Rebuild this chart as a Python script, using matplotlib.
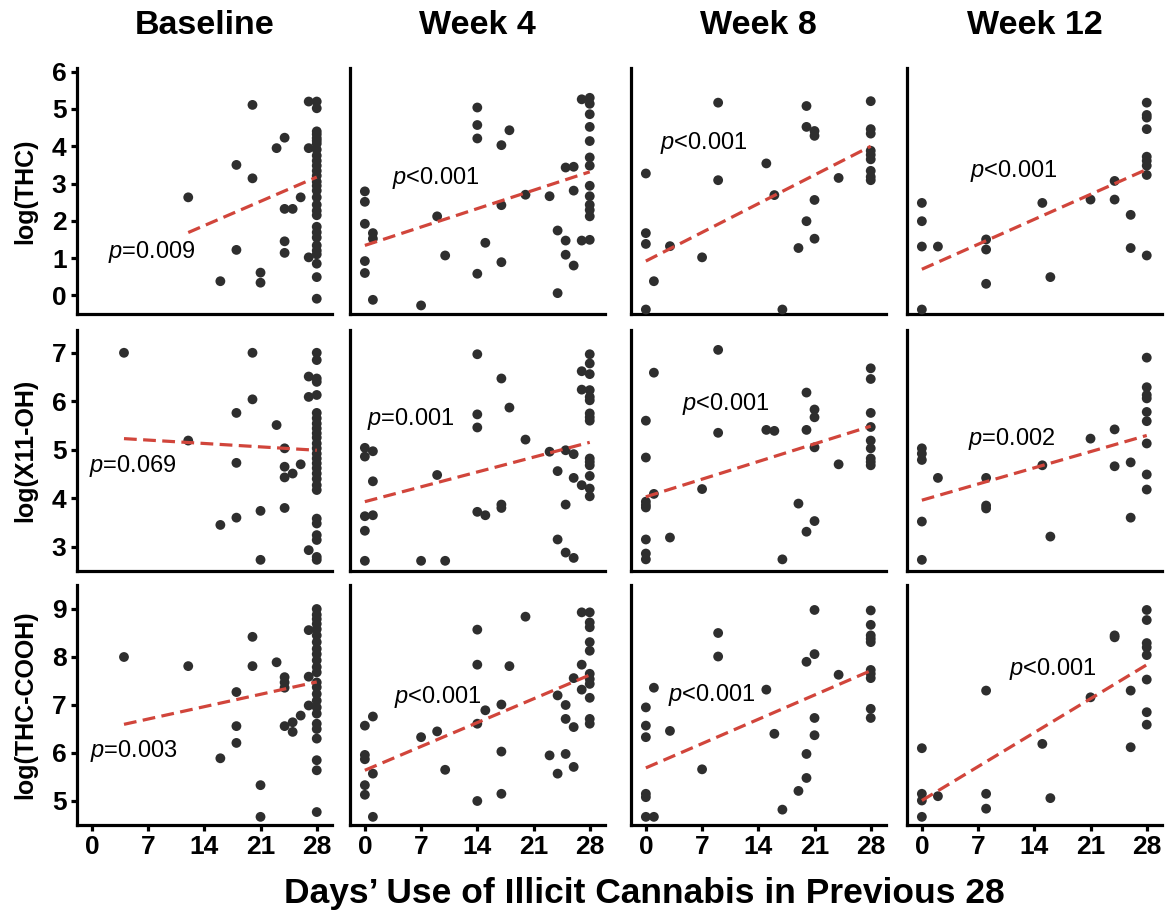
import matplotlib.pyplot as plt
import numpy as np

plt.rcParams['font.family'] = ['Liberation Sans', 'DejaVu Sans']
plt.rcParams['mathtext.fontset'] = 'custom'
plt.rcParams['mathtext.it'] = 'Liberation Sans:italic'
plt.rcParams['mathtext.rm'] = 'Liberation Sans'

timepoints = ['Baseline', 'Week 4', 'Week 8', 'Week 12']
analytes = ['log(THC)', 'log(X11-OH)', 'log(THC-COOH)']
day_ticks = [0, 7, 14, 21, 28]

# --- log(THC) ---
thc_base_x = [12, 16, 18, 18, 20, 20, 21, 21, 23, 24, 24, 25, 24, 24, 26, 27, 27, 27]
thc_base_y = [2.63, 0.38, 3.50, 1.22, 5.11, 3.14, 0.61, 0.34, 3.95, 4.23, 2.32, 2.32, 1.45, 1.14, 2.63, 5.20, 3.95, 1.02]
thc_base_28 = [5.20, 5.02, 4.40, 4.32, 4.22, 4.15, 4.07, 3.91, 3.75, 3.61, 3.48, 3.34, 3.21, 3.05, 2.94,
               2.81, 2.63, 2.43, 2.27, 2.15, 1.84, 1.69, 1.55, 1.34, 1.20, 1.10, 0.85, 0.49, -0.09]

thc_w4_x = [0, 0, 0, 0, 0, 1, 1, 1, 7, 9, 10, 14, 14, 14, 14, 15, 17, 17, 17, 18, 20, 23, 24, 24, 25, 25, 25, 26, 26, 26, 27, 27]
thc_w4_y = [2.79, 2.51, 1.92, 0.92, 0.60, 1.67, 1.52, -0.12, -0.27, 2.12, 1.07, 5.04, 4.57, 4.21, 0.58, 1.41,
            4.03, 2.42, 0.89, 4.43, 2.70, 2.66, 1.74, 0.06, 3.43, 1.47, 1.09, 3.45, 2.81, 0.80, 5.26, 1.47]
thc_w4_28 = [5.30, 5.14, 4.86, 4.52, 4.14, 3.70, 3.48, 2.94, 2.66, 2.43, 2.29, 2.12, 1.49]

thc_w8_x = [0, 0, 0, 0, 1, 3, 7, 9, 9, 15, 16, 17, 19, 20, 20, 20, 21, 21, 21, 21, 24]
thc_w8_y = [3.27, 1.67, 1.38, -0.38, 0.38, 1.32, 1.02, 5.17, 3.09, 3.54, 2.69, -0.38, 1.27, 5.08, 4.52, 1.99,
            4.41, 4.28, 2.56, 1.52, 3.15]
thc_w8_28 = [5.21, 4.46, 4.34, 3.88, 3.77, 3.65, 3.34, 3.18, 3.09]

thc_w12_x = [0, 0, 0, 0, 2, 8, 8, 8, 15, 16, 21, 24, 24, 26, 26]
thc_w12_y = [2.48, 1.99, 1.31, -0.38, 1.31, 1.50, 1.23, 0.31, 2.48, 0.49, 2.57, 3.07, 2.57, 2.16, 1.27]
thc_w12_28 = [5.17, 4.84, 4.77, 4.46, 3.72, 3.61, 3.48, 3.23, 1.07]

# --- log(X11-OH) ---
oh_base_x = [4, 12, 16, 18, 18, 18, 20, 20, 21, 21, 23, 24, 24, 24, 24, 25, 26, 27, 27, 27]
oh_base_y = [7.00, 5.19, 3.45, 5.76, 4.73, 3.60, 7.00, 6.04, 3.74, 2.73, 5.51, 5.03, 4.65, 4.43, 3.80, 4.51,
             4.70, 6.51, 6.09, 2.93]
oh_base_28 = [7.00, 6.85, 6.47, 6.40, 6.13, 5.76, 5.65, 5.54, 5.44, 5.34, 5.25, 5.13, 5.03, 4.92, 4.82,
              4.72, 4.62, 4.51, 4.40, 4.27, 4.17, 3.58, 3.48, 3.24, 3.14, 2.79, 2.73]

oh_w4_x = [0, 0, 0, 0, 0, 1, 1, 1, 7, 9, 10, 14, 14, 14, 14, 15, 17, 17, 17, 18, 20, 23, 24, 24, 25, 25, 25,
           26, 26, 26, 27, 27, 27]
oh_w4_y = [5.04, 4.86, 3.63, 3.33, 2.71, 4.97, 4.35, 3.65, 2.71, 4.48, 2.71, 6.97, 5.73, 5.46, 3.72, 3.65,
           6.47, 3.87, 3.80, 5.87, 5.21, 4.96, 4.56, 3.15, 4.99, 3.87, 2.88, 4.91, 4.42, 2.77, 6.62, 6.24, 4.27]
oh_w4_28 = [6.97, 6.78, 6.56, 6.23, 6.09, 6.02, 5.75, 5.67, 5.60, 4.82, 4.75, 4.68, 4.46, 4.20, 4.04]

oh_w8_x = [0, 0, 0, 0, 0, 0, 0, 0, 1, 1, 3, 7, 9, 9, 15, 16, 17, 19, 20, 20, 20, 21, 21, 21, 21, 24]
oh_w8_y = [5.60, 4.84, 3.93, 3.86, 3.81, 3.15, 2.86, 2.74, 6.59, 4.09, 3.19, 4.19, 7.06, 5.35, 5.41, 5.39,
           2.74, 3.89, 6.18, 5.41, 3.31, 5.83, 5.67, 5.05, 3.53, 4.70]
oh_w8_28 = [6.68, 6.46, 5.76, 5.47, 5.19, 5.03, 4.82, 4.75, 4.68]

oh_w12_x = [0, 0, 0, 0, 0, 2, 8, 8, 8, 15, 16, 21, 24, 24, 26, 26]
oh_w12_y = [5.03, 4.92, 4.79, 3.52, 2.73, 4.42, 4.42, 3.85, 3.79, 4.68, 3.21, 5.23, 5.42, 4.66, 4.74, 3.60]
oh_w12_28 = [6.90, 6.29, 6.13, 6.06, 5.78, 5.59, 5.13, 4.49, 4.18]

# --- log(THC-COOH) ---
cooh_base_x = [4, 12, 16, 18, 18, 18, 20, 20, 21, 21, 23, 24, 24, 24, 24, 25, 25, 26, 27, 27, 27]
cooh_base_y = [8.00, 7.81, 5.89, 7.27, 6.56, 6.21, 8.42, 7.81, 5.33, 4.67, 7.89, 7.58, 7.47, 7.36, 6.56,
               6.64, 6.44, 6.78, 8.56, 7.59, 6.99]
cooh_base_28 = [9.00, 8.88, 8.79, 8.69, 8.58, 8.45, 8.31, 8.17, 8.06, 7.93, 7.79, 7.68, 7.47, 7.37, 7.23,
                7.09, 6.95, 6.82, 6.61, 6.50, 6.30, 5.85, 5.64, 4.77]

cooh_w4_x = [0, 0, 0, 0, 0, 1, 1, 1, 7, 9, 10, 14, 14, 14, 14, 15, 17, 17, 17, 18, 20, 23, 24, 24, 25, 25, 25,
             26, 26, 26, 27, 27, 27]
cooh_w4_y = [6.57, 5.96, 5.87, 5.33, 5.13, 6.76, 5.57, 4.67, 6.33, 6.45, 5.65, 8.57, 7.84, 6.61, 5.00, 6.89,
             7.01, 6.03, 5.15, 7.81, 8.84, 5.95, 7.20, 5.57, 7.00, 6.71, 5.98, 7.56, 6.54, 5.71, 8.93, 7.84, 7.32]
cooh_w4_28 = [8.93, 8.72, 8.62, 8.31, 8.13, 7.65, 7.54, 7.44, 7.15, 6.71, 6.61]

cooh_w8_x = [0, 0, 0, 0, 0, 0, 1, 1, 3, 7, 9, 9, 15, 16, 17, 19, 20, 20, 20, 21, 21, 21, 21, 24]
cooh_w8_y = [6.95, 6.57, 6.33, 5.15, 5.08, 4.67, 4.67, 7.36, 6.46, 5.66, 8.50, 8.01, 7.32, 6.40, 4.82, 5.21,
             5.98, 7.90, 5.48, 8.98, 8.06, 6.73, 6.37, 7.63]
cooh_w8_28 = [8.97, 8.67, 8.45, 8.38, 8.31, 7.73, 7.65, 7.56, 6.92, 6.73]

cooh_w12_x = [0, 0, 0, 0, 2, 8, 8, 8, 15, 16, 21, 24, 24, 26, 26]
cooh_w12_y = [6.10, 5.15, 5.01, 4.67, 5.10, 7.30, 5.15, 4.84, 6.19, 5.06, 7.16, 8.45, 8.41, 7.30, 6.12]
cooh_w12_28 = [8.98, 8.77, 8.29, 8.20, 8.04, 7.53, 6.85, 6.59]

# regression lines (slope, intercept)
fit_slope = [[0.093, 0.0705, 0.110, 0.0957],
             [-0.010, 0.0437, 0.052, 0.0477],
             [0.0368, 0.0709, 0.0723, 0.101]]
fit_icpt = [[0.57, 1.34, 0.92, 0.70],
            [5.27, 3.93, 4.03, 3.96],
            [6.45, 5.64, 5.69, 5.01]]
p_text = [['=0.009', '<0.001', '<0.001', '<0.001'],
          ['=0.069', '=0.001', '<0.001', '=0.002'],
          ['=0.003', '<0.001', '<0.001', '<0.001']]

panels = [
    [(thc_base_x, thc_base_y, thc_base_28), (thc_w4_x, thc_w4_y, thc_w4_28),
     (thc_w8_x, thc_w8_y, thc_w8_28), (thc_w12_x, thc_w12_y, thc_w12_28)],
    [(oh_base_x, oh_base_y, oh_base_28), (oh_w4_x, oh_w4_y, oh_w4_28),
     (oh_w8_x, oh_w8_y, oh_w8_28), (oh_w12_x, oh_w12_y, oh_w12_28)],
    [(cooh_base_x, cooh_base_y, cooh_base_28), (cooh_w4_x, cooh_w4_y, cooh_w4_28),
     (cooh_w8_x, cooh_w8_y, cooh_w8_28), (cooh_w12_x, cooh_w12_y, cooh_w12_28)],
]

# layout / styling
W, H = 1169, 916
col_left = [77, 350, 631, 907]
col_w = 255
row_top = [68, 330, 585]
row_bot = [314, 571, 825]
ylims = [(-0.5, 6.1), (2.5, 7.47), (4.5, 9.5)]
yticks = [range(0, 7), range(3, 8), range(5, 10)]
p_pos = [[(2.05, 1.16), (3.4, 3.16), (1.74, 4.10), (6.0, 3.34)],
         [(-0.33, 4.66), (0.25, 5.63), (4.46, 5.94), (5.8, 5.23)],
         [(-0.25, 6.05), (3.6, 7.16), (2.7, 7.20), (10.9, 7.75)]]
dot_color = '#2e2e2e'
line_color = '#d1453b'

fig = plt.figure(figsize=(W / 100, H / 100), dpi=100)

for r in range(3):
    for c in range(4):
        ax = fig.add_axes([col_left[c] / W, 1 - row_bot[r] / H, col_w / W, (row_bot[r] - row_top[r]) / H])
        xs, ys, y28 = panels[r][c]
        x = np.array(list(xs) + [28] * len(y28), dtype=float)
        y = np.array(list(ys) + list(y28), dtype=float)
        ax.scatter(x, y, s=50, color=dot_color, edgecolors='none', zorder=3, clip_on=False)
        lx = np.array([x.min(), x.max()])
        ax.plot(lx, fit_slope[r][c] * lx + fit_icpt[r][c], color=line_color, lw=2.3,
                linestyle=(0, (4, 2)), zorder=4)
        px, py = p_pos[r][c]
        ax.text(px, py, '$p$' + p_text[r][c], fontsize=17, ha='left', va='center', zorder=5)

        ax.set_xlim(-1.85, 29.9)
        ax.set_ylim(*ylims[r])
        ax.set_xticks(day_ticks)
        ax.set_yticks(list(yticks[r]))
        for side in ['top', 'right']:
            ax.spines[side].set_visible(False)
        for side in ['left', 'bottom']:
            ax.spines[side].set_linewidth(2.3)
        ax.tick_params(width=2.3, length=4.5, labelsize=19, pad=3)
        for lab in ax.get_xticklabels() + ax.get_yticklabels():
            lab.set_fontweight('bold')
        if c > 0:
            ax.tick_params(axis='y', left=False, labelleft=False)
        if r < 2:
            ax.tick_params(axis='x', bottom=False, labelbottom=False)

for c, name in enumerate(timepoints):
    fig.text((col_left[c] + col_w / 2) / W, 1 - 26 / H, name, fontsize=24.5, fontweight='bold',
             ha='center', va='center')
for r, name in enumerate(analytes):
    fig.text(25 / W, 1 - (row_top[r] + row_bot[r]) / 2 / H, name, fontsize=18, fontweight='bold',
             rotation=90, ha='center', va='center')
fig.text(644 / W, 1 - 893 / H, 'Days\u2019 Use of Illicit Cannabis in Previous 28', fontsize=25.5,
         fontweight='bold', ha='center', va='center')

fig.savefig('out.png', dpi=100)
